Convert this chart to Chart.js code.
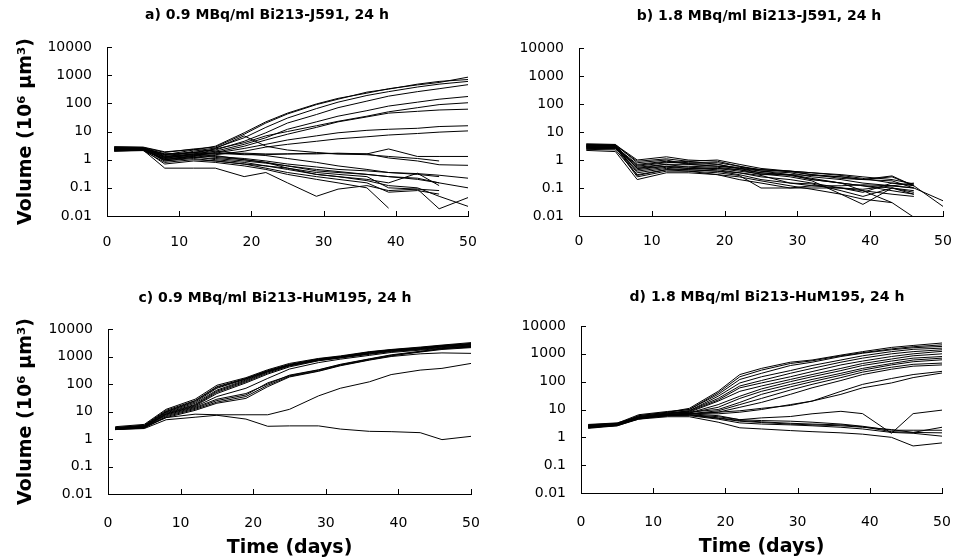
<!DOCTYPE html>
<html>
<head>
<meta charset="utf-8">
<script src="https://cdn.jsdelivr.net/npm/chart.js@4/dist/chart.umd.min.js"></script>
<style>
  body { margin: 0; background: #fff; overflow: hidden; width: 954px; height: 560px; position: relative; }
  canvas { position: absolute; }
</style>
</head>
<body>
<canvas id="panelA" width="534" height="280" style="left:0;top:0"></canvas>
<canvas id="panelB" width="564" height="280" style="left:477px;top:0"></canvas>
<canvas id="panelC" width="550" height="280" style="left:0;top:280px"></canvas>
<canvas id="panelD" width="580" height="280" style="left:477px;top:280px"></canvas>
<script>
// measurement days
const days = [1, 5, 8, 12, 15, 19, 22, 25, 29, 32, 36, 39, 43, 46, 50];
const xTicks = [0, 10, 20, 30, 40, 50];
const yTicks = [0.01, 0.1, 1, 10, 100, 1000, 10000];

const titles = [
  'a) 0.9 MBq/ml Bi213-J591, 24 h',
  'b) 1.8 MBq/ml Bi213-J591, 24 h',
  'c) 0.9 MBq/ml Bi213-HuM195, 24 h',
  'd) 1.8 MBq/ml Bi213-HuM195, 24 h'
];
const yTitle = 'Volume (10⁶ μm³)';
const xTitle = 'Time (days)';

// a) 0.9 MBq/ml J591 - one row per spheroid
const seriesA = [
  [2.5, 2.6, 1.5, 2.2, 3.0, 9, 22, 45, 95, 150, 230, 330, 450, 550, 850],
  [2.8, 2.7, 1.8, 2.4, 2.8, 8, 20, 42, 90, 140, 250, 320, 480, 600, 700],
  [2.2, 2.4, 1.2, 2.0, 2.6, 6, 14, 30, 65, 110, 190, 260, 380, 480, 600],
  [2.4, 2.5, 1.6, 1.8, 2.2, 4.5, 9, 20, 40, 70, 120, 180, 260, 330, 460],
  [2.0, 2.2, 1.1, 1.6, 2.0, 3.5, 6, 12, 22, 35, 55, 80, 110, 140, 175],
  [2.6, 2.5, 1.4, 1.8, 2.4, 4, 7, 10, 16, 23, 35, 50, 70, 90, 105],
  [2.3, 2.3, 1.0, 1.4, 1.8, 3, 5, 8, 14, 22, 33, 45, 52, 58, 62],
  [2.5, 2.6, 1.3, 1.6, 1.7, 2.5, 3.5, 5, 7, 9, 11, 12, 13, 15, 16],
  [2.1, 2.3, 0.9, 1.2, 1.5, 2.0, 2.8, 3.5, 4.5, 5.5, 6.5, 7.5, 8.5, 9.5, 10.5],
  [2.4, 2.4, 1.0, 1.3, 2.5, 7, 3, 2.2, 1.8, 1.6, 1.5, 1.3, 1.1, 0.9, null],
  [2.3, 2.4, 1.2, 1.5, 1.6, 1.7, 1.6, 1.6, 1.7, 1.6, 1.6, 2.4, 1.3, 1.3, 1.3],
  [2.6, 2.5, 1.5, 1.8, 1.7, 1.5, 1.5, 1.6, 1.6, 1.7, 1.6, 1.15, 0.9, 0.66, 0.63],
  [2.5, 2.5, 1.2, 1.4, 1.3, 1.1, 0.9, 0.7, 0.55, 0.45, 0.4, 0.35, 0.32, 0.28, 0.22],
  [2.2, 2.3, 1.0, 1.2, 1.1, 0.9, 0.75, 0.6, 0.45, 0.38, 0.3, 0.25, 0.2, 0.15, 0.1],
  [2.7, 2.6, 1.6, 1.6, 1.4, 1.0, 0.8, 0.5, 0.35, 0.3, 0.25, 0.1, 0.09, 0.018, 0.045],
  [2.0, 2.1, 0.8, 1.0, 0.9, 0.7, 0.6, 0.45, 0.3, 0.25, 0.18, 0.12, 0.1, 0.05, 0.022],
  [2.4, 2.4, 1.3, 1.5, 1.2, 1.0, 0.8, 0.6, 0.4, 0.35, 0.3, 0.25, 0.22, 0.15, null],
  [2.3, 2.2, 1.1, 1.3, 1.0, 0.8, 0.6, 0.5, 0.3, 0.25, 0.2, 0.15, 0.33, 0.12, null],
  [2.6, 2.5, 0.9, 1.1, 0.9, 0.7, 0.5, 0.35, 0.25, 0.2, 0.15, 0.07, 0.08, 0.06, null],
  [2.2, 2.3, 0.7, 0.9, 0.8, 0.6, 0.45, 0.3, 0.2, 0.15, 0.1, 0.019, null, null, null],
  [2.1, 2.2, 0.5, 0.5, 0.5, 0.25, 0.35, 0.15, 0.05, 0.09, 0.12, 0.08, 0.09, 0.08, null],
  [2.9, 2.8, 1.9, 2.3, 2.0, 1.6, 1.4, 1.1, 0.8, 0.6, 0.45, 0.35, 0.3, 0.25, null]
];

// b) 1.8 MBq/ml J591
const seriesB = [
  [3.5, 3.5, 1.0, 1.3, 1.0, 0.9, 0.6, 0.4, 0.35, 0.25, 0.2, 0.15, 0.12, 0.1, 0.035],
  [3.2, 3.3, 0.9, 1.1, 0.9, 1.0, 0.7, 0.5, 0.4, 0.3, 0.25, 0.2, 0.25, 0.12, 0.022],
  [3.0, 3.0, 0.7, 0.9, 0.8, 0.8, 0.6, 0.45, 0.4, 0.35, 0.28, 0.22, 0.15, 0.13, null],
  [2.8, 2.8, 0.6, 0.8, 0.9, 0.7, 0.5, 0.4, 0.3, 0.22, 0.15, 0.08, 0.03, 0.009, null],
  [3.6, 3.4, 0.5, 0.7, 0.7, 0.6, 0.5, 0.45, 0.38, 0.3, 0.22, 0.2, 0.18, 0.1, null],
  [2.5, 2.6, 0.45, 0.6, 0.6, 0.55, 0.45, 0.35, 0.28, 0.2, 0.15, 0.12, 0.1, 0.07, null],
  [2.7, 2.7, 0.4, 0.55, 0.5, 0.45, 0.35, 0.28, 0.15, 0.12, 0.1, 0.07, 0.15, 0.12, null],
  [3.3, 3.1, 0.35, 0.5, 0.45, 0.4, 0.3, 0.2, 0.15, 0.14, 0.08, 0.05, 0.1, 0.08, null],
  [2.4, 2.3, 0.3, 0.45, 0.4, 0.35, 0.28, 0.1, 0.1, 0.12, 0.12, 0.13, 0.12, 0.1, null],
  [3.0, 2.9, 0.25, 0.4, 0.4, 0.3, 0.25, 0.18, 0.12, 0.09, 0.06, 0.04, 0.03, null, null],
  [2.2, 2.0, 0.2, 0.35, 0.35, 0.3, 0.2, 0.15, 0.1, 0.1, 0.1, 0.09, 0.12, 0.15, null],
  [3.8, 3.6, 0.8, 1.0, 0.7, 0.6, 0.55, 0.45, 0.4, 0.35, 0.3, 0.25, 0.2, 0.14, null],
  [2.6, 2.5, 0.55, 0.7, 0.55, 0.5, 0.4, 0.32, 0.25, 0.18, 0.06, 0.026, 0.1, 0.06, null],
  [3.1, 3.2, 0.5, 0.6, 0.5, 0.5, 0.45, 0.3, 0.3, 0.28, 0.25, 0.2, 0.27, 0.12, null],
  [2.9, 2.8, 0.65, 0.85, 0.75, 0.7, 0.5, 0.35, 0.3, 0.2, 0.15, 0.12, 0.08, 0.06, null],
  [3.4, 3.2, 0.28, 0.45, 0.45, 0.4, 0.35, 0.25, 0.2, 0.15, 0.1, 0.08, 0.06, 0.05, null]
];

// c) 0.9 MBq/ml HuM195
const seriesC = [
  [2.8, 3.4, 12, 28, 90, 170, 330, 560, 850, 1050, 1500, 1800, 2200, 2600, 3200],
  [2.6, 3.2, 11, 25, 80, 160, 310, 520, 820, 1000, 1450, 1750, 2100, 2500, 3000],
  [2.5, 3.0, 10, 22, 70, 150, 300, 500, 780, 980, 1400, 1700, 2000, 2400, 2800],
  [2.4, 2.9, 9.5, 20, 60, 140, 280, 480, 760, 950, 1350, 1650, 1950, 2350, 2700],
  [2.3, 2.8, 9, 18, 55, 130, 270, 470, 740, 930, 1300, 1600, 1900, 2300, 2600],
  [2.2, 2.7, 8.5, 17, 50, 120, 250, 450, 720, 900, 1250, 1550, 1850, 2200, 2500],
  [2.6, 3.1, 10, 24, 75, 155, 290, 490, 790, 990, 1420, 1720, 2050, 2450, 2900],
  [2.3, 2.6, 8, 16, 45, 110, 230, 420, 700, 880, 1200, 1500, 1800, 2100, 2400],
  [2.4, 2.8, 8, 15, 35, 70, 160, 350, 600, 800, 1100, 1400, 1700, 2000, 2300],
  [2.4, 2.7, 7, 13, 25, 40, 110, 200, 320, 500, 800, 1100, 1500, 1900, 2200],
  [2.2, 2.5, 6.5, 12, 22, 35, 90, 190, 300, 480, 760, 1050, 1450, 1800, 2100],
  [2.5, 2.9, 7.5, 14, 28, 45, 100, 210, 330, 520, 820, 1150, 1550, 1950, 2300],
  [2.3, 2.6, 6, 11, 20, 30, 80, 180, 290, 460, 740, 1000, 1250, 1350, 1300],
  [2.5, 2.8, 6, 8, 7.6, 7.6, 7.6, 12, 37, 70, 120, 220, 320, 370, 560],
  [2.2, 2.4, 5, 6.2, 7.3, 5.3, 2.9, 3.0, 3.0, 2.3, 1.9, 1.85, 1.7, 0.95, 1.25]
];

// d) 1.8 MBq/ml HuM195
const seriesD = [
  [2.5, 3.0, 6, 8, 11, 45, 180, 300, 500, 600, 900, 1200, 1700, 2000, 2450],
  [2.2, 2.8, 6, 8, 10, 40, 150, 260, 450, 560, 850, 1100, 1500, 1800, 2100],
  [2.8, 3.2, 6.5, 8.5, 10, 35, 120, 200, 380, 500, 800, 1050, 1400, 1650, 1850],
  [2.6, 3.0, 5.5, 7.5, 9, 30, 90, 150, 250, 380, 600, 850, 1200, 1450, 1600],
  [2.4, 2.9, 5, 7, 9, 25, 70, 110, 200, 300, 500, 700, 1000, 1200, 1400],
  [2.3, 2.7, 5, 7, 8.5, 22, 60, 90, 150, 230, 400, 550, 800, 1000, 1230],
  [2.7, 3.1, 5.5, 7.5, 8, 20, 45, 70, 120, 180, 300, 450, 650, 850, 1000],
  [2.5, 2.9, 5, 6.5, 7.5, 15, 30, 55, 100, 150, 250, 380, 550, 700, 800],
  [2.1, 2.6, 4.5, 6.5, 7.5, 12, 25, 45, 80, 120, 200, 300, 450, 600, 700],
  [2.9, 3.3, 5.5, 7, 8, 10, 18, 35, 65, 100, 170, 260, 400, 520, 610],
  [2.4, 2.8, 5, 6.5, 7, 9, 15, 25, 50, 80, 140, 220, 330, 420, 465],
  [2.6, 3.0, 5, 6.5, 7, 8, 12, 18, 35, 60, 110, 180, 280, 360, 400],
  [2.3, 2.7, 4.8, 6, 7, 7, 8, 10, 15, 20, 45, 80, 130, 180, 235],
  [2.5, 2.9, 5, 6.5, 7, 8, 9, 11, 14, 20, 35, 60, 90, 140, 205],
  [2.6, 3.0, 5, 6.5, 7, 6, 4.3, 5, 5.6, 7, 8.6, 7.1, 1.4, 7.1, 9.5],
  [2.4, 2.8, 5, 6.5, 6.5, 5.5, 4.3, 4, 3.8, 3.5, 3, 2.5, 1.8, 1.8, 1.8],
  [2.2, 2.7, 4.8, 6, 6.5, 5, 4, 3.6, 3.2, 3, 2.8, 2.4, 1.6, 1.5, 2.3],
  [2.5, 2.9, 4.5, 5.5, 5.5, 3.5, 2.2, 2.0, 1.75, 1.6, 1.45, 1.3, 1.0, 0.49, 0.63],
  [2.7, 3.0, 5, 6, 6, 4.5, 3.3, 3, 2.8, 2.6, 2.3, 2.0, 1.5, 1.4, 1.1],
  [2.3, 2.6, 4.7, 6, 6.3, 4.8, 3.8, 3.4, 3, 2.8, 2.6, 2.3, 1.9, 1.5, 1.45]
];

Chart.defaults.font.family = "'DejaVu Sans', sans-serif";
Chart.defaults.color = '#000';

// tick marks point into the plot, so draw them here
const innerTicks = {
  id: 'innerTicks',
  afterDraw(chart) {
    const { ctx, chartArea, scales: { x, y } } = chart;
    ctx.save();
    ctx.strokeStyle = '#000';
    ctx.lineWidth = 1;
    ctx.beginPath();
    x.ticks.forEach(t => {
      if (t.value === 0) return;
      const px = Math.round(x.getPixelForValue(t.value)) + 0.5;
      ctx.moveTo(px, chartArea.bottom);
      ctx.lineTo(px, chartArea.bottom - 5);
    });
    y.ticks.forEach(t => {
      const py = Math.round(y.getPixelForValue(t.value)) + 0.5;
      ctx.moveTo(chartArea.left, py);
      ctx.lineTo(chartArea.left + 5, py);
    });
    ctx.stroke();
    ctx.restore();
  }
};

function makePanel(id, series, opt) {
  const datasets = series.map(row => ({
    data: days.map((d, i) => ({ x: d, y: row[i] })),
    borderColor: '#000',
    borderWidth: 1,
    pointRadius: 0,
    fill: false,
    tension: 0
  }));

  new Chart(document.getElementById(id), {
    type: 'line',
    data: { datasets },
    plugins: [innerTicks],
    options: {
      responsive: false,
      animation: false,
      events: [],
      layout: { padding: 0 },
      plugins: {
        legend: { display: false },
        tooltip: { enabled: false },
        title: {
          display: true,
          text: opt.title,
          font: { size: 14, weight: 'bold' },
          padding: { top: opt.titleTop, bottom: opt.titleBottom }
        }
      },
      scales: {
        x: {
          type: 'linear',
          min: 0,
          max: 50,
          afterBuildTicks: s => { s.ticks = xTicks.map(v => ({ value: v })); },
          afterFit: s => { s.height = opt.xH; },
          grid: { display: false, drawTicks: false },
          border: { display: true, color: '#000', width: 1 },
          ticks: { font: { size: 14 }, padding: opt.xPad, maxRotation: 0 },
          title: {
            display: opt.showX,
            text: xTitle,
            font: { size: 19, weight: 'bold' },
            padding: { top: 0, bottom: opt.xTitlePad }
          }
        },
        y: {
          type: 'logarithmic',
          min: 0.01,
          max: 10000,
          afterBuildTicks: s => { s.ticks = yTicks.map(v => ({ value: v })); },
          afterFit: s => { s.width = opt.yW; },
          grid: { display: false, drawTicks: false },
          border: { display: true, color: '#000', width: 1 },
          ticks: { font: { size: 14 }, padding: 15, callback: v => String(v) },
          title: {
            display: opt.showY,
            text: yTitle,
            font: { size: 19, weight: 'bold' },
            padding: { top: 14.6, bottom: 0 }
          }
        },
        // empty spacer on the right so the panel title sits where it should
        spacer: {
          type: 'linear',
          position: 'right',
          afterFit: s => { s.width = opt.rightW; },
          grid: { display: false, drawTicks: false },
          border: { display: false },
          ticks: { display: false }
        }
      }
    }
  });
}

makePanel('panelA', seriesA, {
  title: titles[0], yW: 107, rightW: 66, xH: 64,
  titleTop: 6.6, titleBottom: 23.6, xPad: 18, showX: false, xTitlePad: 0, showY: true
});
makePanel('panelB', seriesB, {
  title: titles[1], yW: 102, rightW: 98, xH: 64,
  titleTop: 7.6, titleBottom: 23.6, xPad: 17, showX: false, xTitlePad: 0, showY: false
});
makePanel('panelC', seriesC, {
  title: titles[2], yW: 108, rightW: 79, xH: 66,
  titleTop: 9.6, titleBottom: 22.6, xPad: 21, showX: true, xTitlePad: 0.6, showY: true
});
makePanel('panelD', seriesD, {
  title: titles[3], yW: 104, rightW: 115, xH: 67,
  titleTop: 8.6, titleBottom: 20.6, xPad: 21, showX: true, xTitlePad: 1.6, showY: false
});
</script>
</body>
</html>
